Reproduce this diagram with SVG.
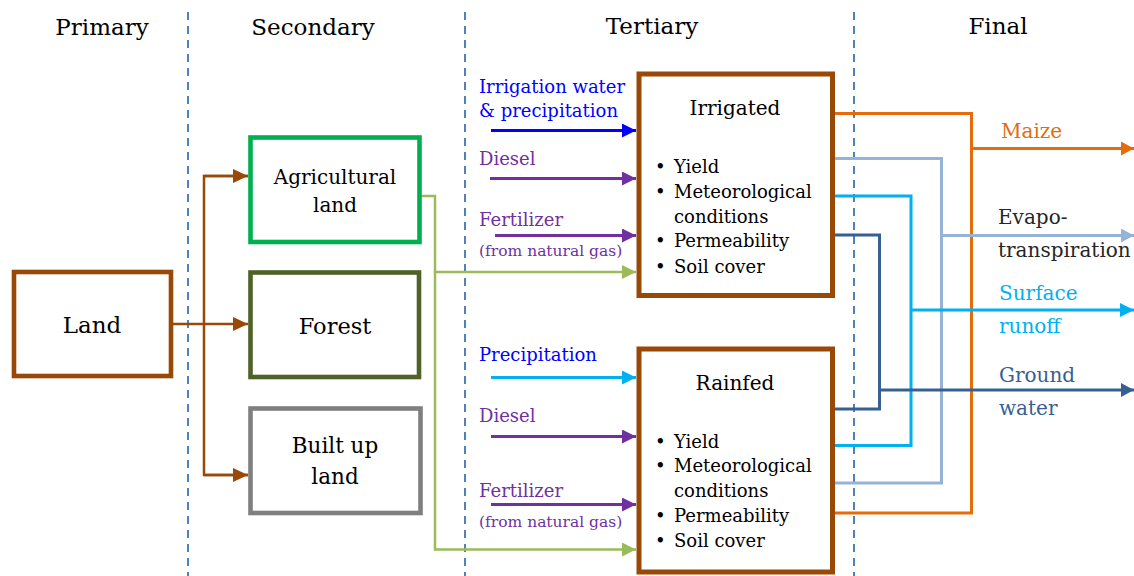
<svg xmlns="http://www.w3.org/2000/svg" width="1134" height="576" viewBox="0 0 1134 576">
<style>
text{font-family:"DejaVu Serif","Liberation Serif",serif;fill:#000}
.hdr{font-size:23px;text-anchor:middle}
.box{fill:#fff;stroke-linejoin:miter}
.lbl{font-size:18px}
.small{font-size:15.5px}
.c{text-anchor:middle}
.sep{stroke:#4f81bd;stroke-width:2;stroke-dasharray:8 6;fill:none}
.ln{fill:none;stroke-width:3}
</style>
<defs>
<marker id="aBrown" markerUnits="userSpaceOnUse" markerWidth="15" markerHeight="14" refX="15" refY="7" orient="auto"><path d="M0,0L15,7L0,14z" fill="#984807"/></marker>
<marker id="aBlue" markerUnits="userSpaceOnUse" markerWidth="14" markerHeight="14" refX="14" refY="7" orient="auto"><path d="M0,0L14,7L0,14z" fill="#0000ff"/></marker>
<marker id="aPurple" markerUnits="userSpaceOnUse" markerWidth="14" markerHeight="14" refX="14" refY="7" orient="auto"><path d="M0,0L14,7L0,14z" fill="#7030a0"/></marker>
<marker id="aLGreen" markerUnits="userSpaceOnUse" markerWidth="14" markerHeight="14" refX="14" refY="7" orient="auto"><path d="M0,0L14,7L0,14z" fill="#9bbb59"/></marker>
<marker id="aCyan" markerUnits="userSpaceOnUse" markerWidth="14" markerHeight="14" refX="14" refY="7" orient="auto"><path d="M0,0L14,7L0,14z" fill="#00b0f0"/></marker>
<marker id="aOrange" markerUnits="userSpaceOnUse" markerWidth="13" markerHeight="14" refX="13" refY="7" orient="auto"><path d="M0,0L13,7L0,14z" fill="#e46c0a"/></marker>
<marker id="aLBlue" markerUnits="userSpaceOnUse" markerWidth="13" markerHeight="14" refX="13" refY="7" orient="auto"><path d="M0,0L13,7L0,14z" fill="#95b3d7"/></marker>
<marker id="aDBlue" markerUnits="userSpaceOnUse" markerWidth="13" markerHeight="14" refX="13" refY="7" orient="auto"><path d="M0,0L13,7L0,14z" fill="#376092"/></marker>
</defs>

<g id="separators">
<line class="sep" x1="188" y1="12" x2="188" y2="576"/>
<line class="sep" x1="465" y1="12" x2="465" y2="576"/>
<line class="sep" x1="854" y1="12" x2="854" y2="576"/>
</g>

<g id="headers">
<text class="hdr" x="102" y="35">Primary</text>
<text class="hdr" x="313" y="35">Secondary</text>
<text class="hdr" x="652" y="34">Tertiary</text>
<text class="hdr" x="998" y="34">Final</text>
</g>

<g id="connectors">
<!-- Land to secondary -->
<g stroke="#984807" stroke-width="2.5" fill="none">
<line x1="173" y1="324" x2="248" y2="324" marker-end="url(#aBrown)"/>
<polyline points="248,176 204,176 204,475 248,475"/>
<line x1="204" y1="176" x2="248" y2="176" marker-end="url(#aBrown)"/>
<line x1="204" y1="475" x2="248" y2="475" marker-end="url(#aBrown)"/>
</g>
<!-- Agricultural land to tertiary -->
<g stroke="#9bbb59" stroke-width="2.5" fill="none">
<polyline points="421,196 435,196 435,549.5 636,549.5" marker-end="url(#aLGreen)"/>
<line x1="435" y1="272" x2="636" y2="272" marker-end="url(#aLGreen)"/>
</g>
<!-- inputs irrigated -->
<line class="ln" x1="491" y1="130.5" x2="636" y2="130.5" stroke="#0000ff" marker-end="url(#aBlue)"/>
<line class="ln" x1="490" y1="178.5" x2="636" y2="178.5" stroke="#7030a0" marker-end="url(#aPurple)"/>
<line class="ln" x1="495" y1="235.5" x2="636" y2="235.5" stroke="#7030a0" marker-end="url(#aPurple)"/>
<!-- inputs rainfed -->
<line class="ln" x1="491" y1="377.5" x2="636" y2="377.5" stroke="#00b0f0" marker-end="url(#aCyan)"/>
<line class="ln" x1="491" y1="436.5" x2="636" y2="436.5" stroke="#7030a0" marker-end="url(#aPurple)"/>
<line class="ln" x1="491" y1="504.5" x2="636" y2="504.5" stroke="#7030a0" marker-end="url(#aPurple)"/>
<!-- outputs -->
<polyline class="ln" stroke="#e46c0a" points="834,113.5 971.5,113.5 971.5,513 834,513"/>
<polyline class="ln" stroke="#95b3d7" points="834,158.5 941.5,158.5 941.5,483 834,483"/>
<polyline class="ln" stroke="#00b0f0" points="834,196 911,196 911,445.5 834,445.5"/>
<polyline class="ln" stroke="#376092" points="834,235 879.5,235 879.5,409 834,409"/>
<line class="ln" x1="971.5" y1="148.5" x2="1134" y2="148.5" stroke="#e46c0a" marker-end="url(#aOrange)"/>
<line class="ln" x1="941.5" y1="235.5" x2="1134" y2="235.5" stroke="#95b3d7" marker-end="url(#aLBlue)"/>
<line class="ln" x1="911" y1="310" x2="1134" y2="310" stroke="#00b0f0" marker-end="url(#aCyan)"/>
<line class="ln" x1="879.5" y1="390" x2="1134" y2="390" stroke="#376092" marker-end="url(#aDBlue)"/>
</g>

<g id="land">
<rect class="box" x="14" y="272" width="157" height="104" stroke="#984807" stroke-width="4.6"/>
<text class="c" x="92" y="333" font-size="23">Land</text>
</g>

<g id="agricultural">
<rect class="box" x="250.5" y="137.5" width="169" height="104.5" stroke="#00b050" stroke-width="4.6"/>
<text class="c" x="335" y="184" font-size="20">Agricultural</text>
<text class="c" x="335" y="211.5" font-size="20">land</text>
</g>

<g id="forest">
<rect class="box" x="250.5" y="272.5" width="168.5" height="104.5" stroke="#4f6228" stroke-width="4.6"/>
<text class="c" x="335" y="334" font-size="22.5">Forest</text>
</g>

<g id="builtup">
<rect class="box" x="250.5" y="408.5" width="170" height="104.5" stroke="#7f7f7f" stroke-width="4.6"/>
<text class="c" x="335" y="452.5" font-size="21.5">Built up</text>
<text class="c" x="335" y="484" font-size="21.5">land</text>
</g>

<g id="irrigated">
<rect class="box" x="639" y="74" width="193.5" height="221.5" stroke="#984807" stroke-width="5"/>
<text class="c" x="735" y="115" font-size="20">Irrigated</text>
<g class="lbl">
<text x="655" y="173">•</text><text x="674" y="173">Yield</text>
<text x="655" y="198">•</text><text x="674" y="198">Meteorological</text>
<text x="674" y="222.5">conditions</text>
<text x="655" y="247">•</text><text x="674" y="247">Permeability</text>
<text x="655" y="272.5">•</text><text x="674" y="272.5">Soil cover</text>
</g>
</g>

<g id="rainfed">
<rect class="box" x="639" y="349" width="193.5" height="223" stroke="#984807" stroke-width="5"/>
<text class="c" x="735" y="390" font-size="20">Rainfed</text>
<g class="lbl">
<text x="655" y="447.5">•</text><text x="674" y="447.5">Yield</text>
<text x="655" y="472">•</text><text x="674" y="472">Meteorological</text>
<text x="674" y="497">conditions</text>
<text x="655" y="522">•</text><text x="674" y="522">Permeability</text>
<text x="655" y="547">•</text><text x="674" y="547">Soil cover</text>
</g>
</g>

<g id="input-labels">
<text class="lbl" x="479" y="92.5" fill="#0000ff" style="fill:#0000ff">Irrigation water</text>
<text class="lbl" x="479" y="117" style="fill:#0000ff">&amp; precipitation</text>
<text class="lbl" x="479" y="165" style="fill:#7030a0">Diesel</text>
<text class="lbl" x="479" y="225.5" style="fill:#7030a0">Fertilizer</text>
<text class="small" x="479" y="256" style="fill:#7030a0">(from natural gas)</text>
<text class="lbl" x="479" y="360.5" style="fill:#0000ff">Precipitation</text>
<text class="lbl" x="479" y="422" style="fill:#7030a0">Diesel</text>
<text class="lbl" x="479" y="496.5" style="fill:#7030a0">Fertilizer</text>
<text class="small" x="479" y="526.5" style="fill:#7030a0">(from natural gas)</text>
</g>

<g id="output-labels">
<text x="1001" y="137.5" font-size="20" style="fill:#e46c0a">Maize</text>
<text x="998" y="223.5" font-size="20" style="fill:#262626">Evapo-</text>
<text x="998" y="256.5" font-size="20" style="fill:#262626">transpiration</text>
<text x="999" y="300" font-size="20" style="fill:#00b0f0">Surface</text>
<text x="999" y="333" font-size="20" style="fill:#00b0f0">runoff</text>
<text x="999" y="382" font-size="20" style="fill:#376092">Ground</text>
<text x="999" y="415" font-size="20" style="fill:#376092">water</text>
</g>
</svg>
